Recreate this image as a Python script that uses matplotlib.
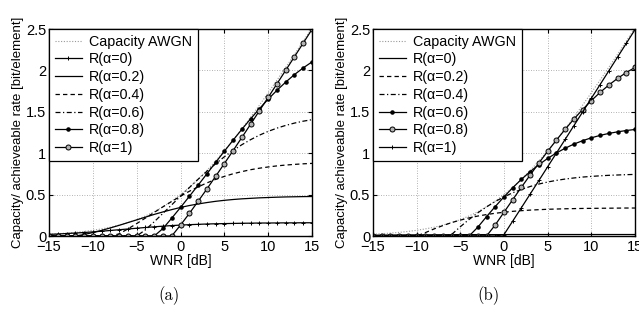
import matplotlib
matplotlib.use("Agg")
import matplotlib.pyplot as plt

# WNR axis in dB
wnr_db = [-15, -14, -13, -12, -11, -10, -9, -8, -7, -6, -5, -4, -3, -2, -1, 0,
          1, 2, 3, 4, 5, 6, 7, 8, 9, 10, 11, 12, 13, 14, 15]

capacity_awgn = [0.022, 0.028, 0.035, 0.044, 0.055, 0.069, 0.086, 0.106, 0.132, 0.162,
                 0.198, 0.242, 0.293, 0.353, 0.422, 0.500, 0.588, 0.685, 0.791, 0.906,
                 1.029, 1.158, 1.294, 1.435, 1.580, 1.730, 1.882, 2.037, 2.194, 2.354, 2.514]

# panel (a)
a_r00 = [0.020, 0.024, 0.030, 0.036, 0.042, 0.050, 0.058, 0.067, 0.076, 0.085, 0.094,
         0.103, 0.111, 0.119, 0.126, 0.132, 0.137, 0.141, 0.145, 0.148, 0.150, 0.152,
         0.154, 0.155, 0.157, 0.157, 0.158, 0.159, 0.159, 0.160, 0.160]
a_r02 = [0, 0, 0, 0, 0.018, 0.042, 0.068, 0.098, 0.129, 0.162, 0.195, 0.228, 0.261,
         0.291, 0.319, 0.345, 0.368, 0.387, 0.404, 0.419, 0.431, 0.441, 0.449, 0.455,
         0.461, 0.465, 0.469, 0.472, 0.474, 0.476, 0.477]
a_r04 = [0, 0, 0, 0, 0, 0, 0, 0, 0.026, 0.086, 0.150, 0.217, 0.285, 0.353, 0.418, 0.481,
         0.540, 0.593, 0.641, 0.684, 0.720, 0.752, 0.778, 0.801, 0.819, 0.834, 0.847,
         0.857, 0.865, 0.872, 0.877]
a_r06 = [0, 0, 0, 0, 0, 0, 0, 0, 0, 0, 0, 0.075, 0.172, 0.274, 0.377, 0.481, 0.584,
         0.685, 0.781, 0.872, 0.957, 1.034, 1.103, 1.164, 1.218, 1.264, 1.303, 1.336,
         1.364, 1.387, 1.405]
a_r08 = [0, 0, 0, 0, 0, 0, 0, 0, 0, 0, 0, 0, 0, 0.091, 0.216, 0.345, 0.478, 0.613,
         0.750, 0.888, 1.024, 1.158, 1.289, 1.416, 1.538, 1.653, 1.760, 1.859, 1.950,
         2.031, 2.103]
a_r10 = [0, 0, 0, 0, 0, 0, 0, 0, 0, 0, 0, 0, 0, 0, 0, 0.132, 0.272, 0.418, 0.567,
         0.720, 0.875, 1.032, 1.191, 1.351, 1.513, 1.675, 1.838, 2.002, 2.166, 2.331, 2.496]

# panel (b)
b_r00 = [0.010, 0.011, 0.012, 0.013, 0.014, 0.014, 0.015, 0.015, 0.016, 0.016, 0.017,
         0.017, 0.017, 0.017, 0.017, 0.017, 0.018, 0.018, 0.018, 0.018, 0.018, 0.018,
         0.018, 0.018, 0.018, 0.018, 0.018, 0.018, 0.018, 0.018, 0.018]
b_r02 = [0, 0, 0, 0, 0, 0, 0.041, 0.086, 0.126, 0.162, 0.192, 0.219, 0.241, 0.259,
         0.275, 0.287, 0.298, 0.306, 0.313, 0.318, 0.323, 0.326, 0.329, 0.331, 0.333,
         0.334, 0.335, 0.336, 0.337, 0.338, 0.338]
b_r04 = [0, 0, 0, 0, 0, 0, 0, 0, 0, 0.018, 0.112, 0.200, 0.280, 0.352, 0.417, 0.473,
         0.522, 0.563, 0.598, 0.628, 0.652, 0.672, 0.688, 0.701, 0.712, 0.720, 0.727,
         0.733, 0.737, 0.741, 0.744]
b_r06 = [0, 0, 0, 0, 0, 0, 0, 0, 0, 0, 0, 0, 0.106, 0.234, 0.356, 0.473, 0.583, 0.685,
         0.778, 0.862, 0.937, 1.003, 1.060, 1.110, 1.151, 1.186, 1.215, 1.239, 1.258,
         1.274, 1.287]
b_r08 = [0, 0, 0, 0, 0, 0, 0, 0, 0, 0, 0, 0, 0, 0, 0.134, 0.287, 0.439, 0.590, 0.737,
         0.882, 1.023, 1.158, 1.288, 1.412, 1.527, 1.635, 1.734, 1.823, 1.903, 1.974, 2.036]
b_r10 = [0, 0, 0, 0, 0, 0, 0, 0, 0, 0, 0, 0, 0, 0, 0, 0.017, 0.180, 0.343, 0.507,
         0.671, 0.836, 1.001, 1.166, 1.332, 1.497, 1.663, 1.828, 1.994, 2.160, 2.326, 2.492]

alpha_labels = ["R(\u03b1=0)", "R(\u03b1=0.2)", "R(\u03b1=0.4)",
                "R(\u03b1=0.6)", "R(\u03b1=0.8)", "R(\u03b1=1)"]
y_ticks = [0, 0.5, 1, 1.5, 2, 2.5]
y_tick_labels = ["0", "0.5", "1", "1.5", "2", "2.5"]
x_ticks = [-15, -10, -5, 0, 5, 10, 15]

plt.rcParams['font.family'] = ['Liberation Sans', 'DejaVu Sans']

# line styles for the six rate curves
style_plus = dict(color='k', lw=0.9, marker='+', ms=3.5, mew=0.7)
style_solid = dict(color='k', lw=0.9, ls='-')
style_dash = dict(color='k', lw=0.9, ls=(0, (3.5, 2.5)))
style_dashdot = dict(color='k', lw=0.9, ls=(0, (4, 2, 1, 2)))
style_dot = dict(color='k', lw=0.9, marker='.', ms=4.5)
style_circ = dict(color='k', lw=0.9, marker='o', ms=3.6, mfc='0.7', mec='k', mew=0.7)

panels = [
    ([0.0767, 0.2738, 0.4116, 0.6369],
     [a_r00, a_r02, a_r04, a_r06, a_r08, a_r10],
     [style_plus, style_solid, style_dash, style_dashdot, style_dot, style_circ],
     "(a)", 0.265),
    ([0.5837, 0.2738, 0.4100, 0.6369],
     [b_r00, b_r02, b_r04, b_r06, b_r08, b_r10],
     [style_solid, style_dash, style_dashdot, style_dot, style_circ, style_plus],
     "(b)", 0.764),
]

fig = plt.figure(figsize=(6.39, 3.25), dpi=100)

for rect, series, styles, caption, cap_x in panels:
    ax = fig.add_axes(rect)
    ax.plot(wnr_db, capacity_awgn, color='0.6', lw=0.8, ls=(0, (1, 1.5)),
            label="Capacity AWGN")
    for vals, st, lab in zip(series, styles, alpha_labels):
        ax.plot(wnr_db, vals, label=lab, **st)
    ax.set_xlim(-15, 15)
    ax.set_ylim(0, 2.5)
    ax.set_xticks(x_ticks)
    ax.set_yticks(y_ticks)
    ax.set_yticklabels(y_tick_labels)
    ax.grid(True, color='0.6', ls=(0, (1, 2)), lw=0.6)
    ax.tick_params(direction='in', length=3, labelsize=10.5, top=True, right=True)
    ax.tick_params(axis='x', pad=3)
    ax.tick_params(axis='y', pad=2)
    for sp in ax.spines.values():
        sp.set_linewidth(1.0)
    ax.set_xlabel("WNR [dB]", fontsize=10, labelpad=0)
    ax.set_ylabel("Capacity/ achieveable rate [bit/element]", fontsize=9.5, labelpad=1)
    leg = ax.legend(loc='upper left', borderaxespad=0, fontsize=10.3, fancybox=False,
                    framealpha=1, edgecolor='k', handlelength=1.9, handletextpad=0.5,
                    labelspacing=0.26, borderpad=0.4)
    leg.get_frame().set_linewidth(0.9)
    fig.text(cap_x, 0.09, caption, ha='center', va='center', fontsize=12,
             family='cmr10')

fig.savefig("out.png", dpi=100)
